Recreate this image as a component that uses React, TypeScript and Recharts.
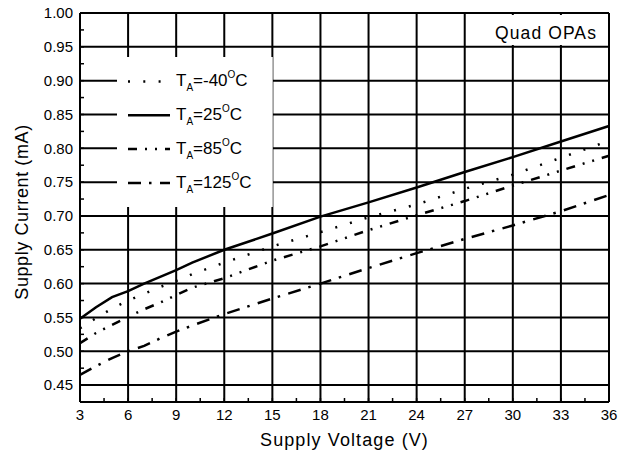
import React from 'react';
import { LineChart, Line, XAxis, YAxis, ReferenceLine } from 'recharts';

const voltage = [3, 4, 5, 6, 7, 8, 9, 10, 12, 15, 18, 21, 24, 27, 30, 33, 36];
const currentM40 = [0.534, 0.549, 0.563, 0.575, 0.585, 0.595, 0.604, 0.614, 0.631, 0.655, 0.676, 0.698, 0.717, 0.740, 0.761, 0.786, 0.811];
const current25 = [0.548, 0.565, 0.580, 0.589, 0.600, 0.610, 0.620, 0.631, 0.650, 0.674, 0.699, 0.720, 0.742, 0.765, 0.787, 0.810, 0.833];
const current85 = [0.512, 0.527, 0.539, 0.551, 0.562, 0.572, 0.583, 0.594, 0.608, 0.634, 0.655, 0.679, 0.701, 0.722, 0.745, 0.767, 0.789];
const current125 = [0.465, 0.478, 0.490, 0.500, 0.508, 0.519, 0.529, 0.538, 0.555, 0.578, 0.600, 0.623, 0.645, 0.666, 0.686, 0.707, 0.731];

const xTicks = [3, 4.5, 6, 7.5, 9, 10.5, 12, 13.5, 15, 16.5, 18, 19.5, 21, 22.5, 24, 25.5, 27, 28.5, 30, 31.5, 33, 34.5, 36];
const xGrid = [3, 6, 9, 12, 15, 18, 21, 24, 27, 30, 33, 36];
const yTicks = [0.45, 0.475, 0.5, 0.525, 0.55, 0.575, 0.6, 0.625, 0.65, 0.675, 0.7, 0.725, 0.75, 0.775, 0.8, 0.825, 0.85, 0.875, 0.9, 0.925, 0.95, 0.975, 1.0];
const yGrid = [0.45, 0.5, 0.55, 0.6, 0.65, 0.7, 0.75, 0.8, 0.85, 0.9, 0.95, 1.0];

const series = [
  { key: 'm40', temp: '-40', dash: '2 13.3' },
  { key: 't25', temp: '25', dash: undefined },
  { key: 't85', temp: '85', dash: '9 8 2 8 2 8' },
  { key: 't125', temp: '125', dash: '13 8 2.5 8.5' },
];

const data = voltage.map((v, i) => ({
  v,
  m40: currentM40[i],
  t25: current25[i],
  t85: current85[i],
  t125: current125[i],
}));

const font = '"Liberation Sans", Arial, sans-serif';

const isMajorY = (v: number) => Math.abs(v * 20 - Math.round(v * 20)) < 1e-6;
const isMajorX = (v: number) => Math.abs(v / 3 - Math.round(v / 3)) < 1e-6;

const App = () => {
  return (
    <div style={{ position: 'absolute', left: 0, top: 0, width: 633, height: 456, background: '#fff', fontFamily: font }}>
      <LineChart width={633} height={456} data={data} margin={{ top: 13, right: 24, bottom: 0, left: 0 }}>
        {xGrid.map((x) => (
          <ReferenceLine key={'gx' + x} x={x} stroke="#000" strokeWidth={2} />
        ))}
        {yGrid.map((y) => (
          <ReferenceLine key={'gy' + y} y={y} stroke="#000" strokeWidth={2} />
        ))}
        <XAxis
          dataKey="v"
          type="number"
          domain={[3, 36]}
          ticks={xTicks}
          interval={0}
          height={54}
          tickSize={-4}
          tickMargin={11}
          axisLine={{ stroke: '#000', strokeWidth: 2 }}
          tickLine={{ stroke: '#000', strokeWidth: 1.5 }}
          tick={{ fill: '#000', fontSize: 15, fontFamily: font }}
          tickFormatter={(v: number) => (isMajorX(v) ? String(v) : '')}
        />
        <YAxis
          type="number"
          domain={[0.425, 1.0]}
          ticks={yTicks}
          interval={0}
          width={80}
          tickSize={-4}
          tickMargin={11}
          axisLine={{ stroke: '#000', strokeWidth: 2 }}
          tickLine={{ stroke: '#000', strokeWidth: 1.5 }}
          tick={{ fill: '#000', fontSize: 15, fontFamily: font }}
          tickFormatter={(v: number) => (isMajorY(v) ? v.toFixed(2) : '')}
        />
        {series.map((s) => (
          <Line
            key={s.key}
            type="linear"
            dataKey={s.key}
            stroke="#000"
            strokeWidth={2.5}
            strokeDasharray={s.dash}
            dot={false}
            activeDot={false}
            isAnimationActive={false}
          />
        ))}
      </LineChart>

      <svg width={633} height={456} style={{ position: 'absolute', left: 0, top: 0, pointerEvents: 'none' }}>
        <text x={344.5} y={446} textAnchor="middle" fontSize={18} fontFamily={font} fill="#000" letterSpacing={1.1}>
          Supply Voltage (V)
        </text>
        <text x={28} y={212} transform="rotate(-90 28 212)" textAnchor="middle" fontSize={18} fontFamily={font} fill="#000" letterSpacing={0.6}>
          Supply Current (mA)
        </text>
      </svg>

      <div style={{ position: 'absolute', left: 490, top: 15, width: 117.5, height: 30, background: '#fff' }}>
        <svg width={117.5} height={30}>
          <text x={107} y={24} textAnchor="end" fontSize={17.5} fontFamily={font} fill="#000" letterSpacing={1.1}>
            Quad OPAs
          </text>
        </svg>
      </div>

      <div style={{ position: 'absolute', left: 117, top: 57, width: 155, height: 150, background: '#fff', borderRight: '1px solid #bbb' }}>
        <svg width={155} height={150}>
          {series.map((s, i) => (
            <g key={s.key}>
              <line x1={11} x2={53} y1={24.5 + 33.8 * i} y2={24.5 + 33.8 * i} stroke="#000" strokeWidth={2.5} strokeDasharray={s.dash} />
              <text x={59} y={29 + 34 * i} fontSize={17} fontFamily={font} fill="#000">
                T
                <tspan fontSize={10} dy={5}>A</tspan>
                <tspan fontSize={17} dy={-5}>={s.temp}</tspan>
                <tspan fontSize={10} dy={-8}>O</tspan>
                <tspan fontSize={17} dy={8}>C</tspan>
              </text>
            </g>
          ))}
        </svg>
      </div>
    </div>
  );
};

export default App;
